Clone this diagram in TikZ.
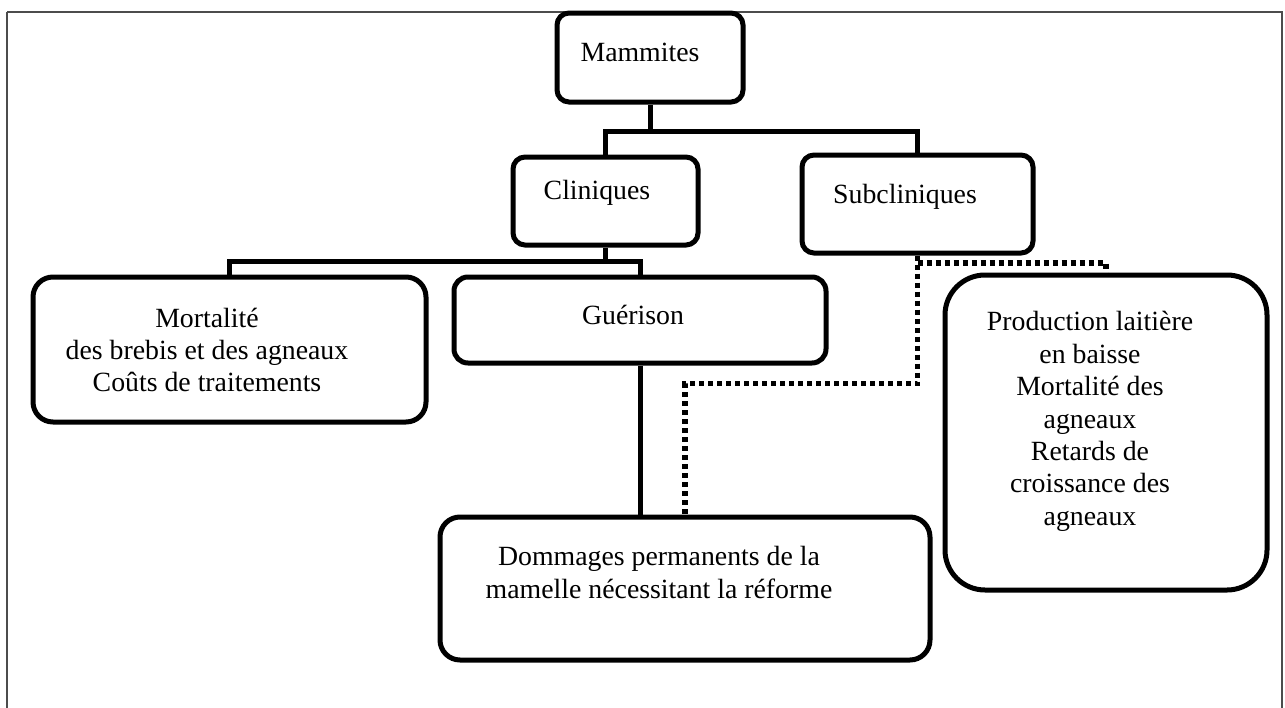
\documentclass[tikz,border=0pt]{standalone}
\usepackage{fontspec}
\setmainfont{Liberation Serif}
\begin{document}
\begin{tikzpicture}[x=0.5pt,y=-0.5pt,
  box/.style={draw, line width=2.5pt, inner sep=0pt, rounded corners=6pt},
  txt/.style={inner sep=0pt, align=center, font=\fontsize{13.9pt}{16.2pt}\selectfont},
  conn/.style={line width=2.5pt},
  dotconn/.style={line width=2.6pt, dash pattern=on 2.5pt off 2pt}]
\useasboundingbox (0,0) rectangle (1285,707);
\draw[line width=1pt, black!70] (7,12) -- (7,720) (7,12) -- (1282,12) -- (1282,720);
% boxes
\node[box, minimum width=93pt, minimum height=44.5pt] (mam) at (650,57.5) {};
\node[box, minimum width=92.5pt, minimum height=44pt] (cli) at (605.5,201) {};
\node[box, minimum width=115.5pt, minimum height=49pt] (sub) at (917.5,204) {};
\node[box, rounded corners=10pt, minimum width=196.5pt, minimum height=72.5pt] (lft) at (229.5,349.5) {};
\node[box, rounded corners=7pt, minimum width=186pt, minimum height=43pt] (gue) at (640,320) {};
\node[box, rounded corners=20pt, minimum width=161pt, minimum height=157.5pt] (rgt) at (1106,432.5) {};
\node[box, rounded corners=10pt, minimum width=245pt, minimum height=71.5pt] (dom) at (685,588.5) {};
% texts
\node[txt] (mamT) at (640,52) {Mammites};
\node[txt] (cliT) at (597,193) {Cliniques};
\node[txt] (subT) at (905,197) {Subcliniques};
\node[txt] (gueT) at (633,315) {Guérison};
\node[txt] (lftT) at (207,350) {Mortalité\\des brebis et des agneaux\\Coûts de traitements};
\node[txt] (rgtT) at (1090,421.5) {Production laitière\\en baisse\\Mortalité des\\agneaux\\Retards de\\croissance des\\agneaux};
\node[txt] (domT) at (659,572.5) {Dommages permanents de la\\mamelle nécessitant la réforme};
% junctions
\coordinate (j1) at (650,131);
\coordinate (j2) at (605.5,261);
\coordinate (j3) at (685,383.5);
\coordinate (j4) at (917.5,263);
% connectors
\draw[conn] (mam.south) -- (j1);
\draw[conn] (cli.north) |- (j1) -| (sub.north);
\draw[conn] (cli.south) -- (j2);
\draw[conn] (lft.north) |- (j2) -| (gue.north);
\draw[conn] (gue.south) -- (gue.south |- dom.north);
\draw[dotconn] (sub.south) |- (j3) -- (dom.north);
\draw[dotconn] (j4) -| (rgt.north);
\end{tikzpicture}
\end{document}
